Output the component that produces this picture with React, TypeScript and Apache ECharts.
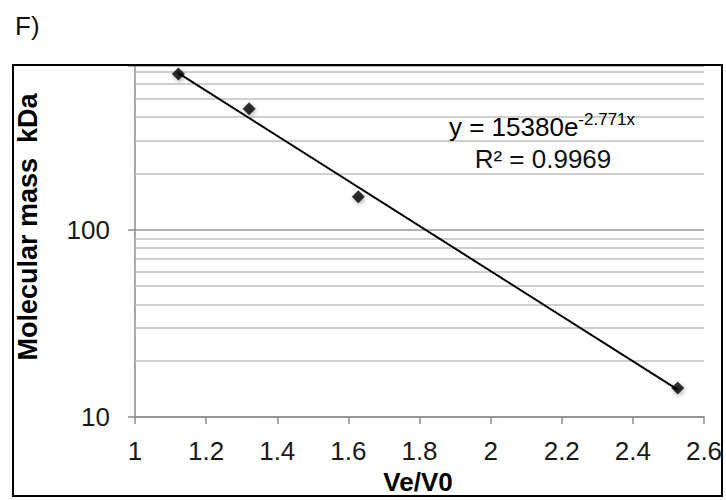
import React, { useEffect, useRef } from "react";
import * as echarts from "echarts";

// Data
const veV0: number[] = [1.122, 1.321, 1.628, 2.526];
const massKDa: number[] = [680, 443, 150, 14.3];
const trendX: number[] = [1.122, 2.526];
const trendY: number[] = [687, 14.0];
const minorGridValues: number[] = [20, 30, 40, 50, 60, 70, 80, 90, 200, 300, 400, 500, 600, 700];
const xMin = 1;
const xMax = 2.6;
const xStep = 0.2;
const yMin = 10;
const yMax = 750;

const FONT = "'Liberation Sans', Arial, Helvetica, sans-serif";

export default function App() {
  const ref = useRef<HTMLDivElement>(null);

  useEffect(() => {
    if (!ref.current) return;
    const chart = echarts.init(ref.current, null, { renderer: "svg" });

    const points = veV0.map((x, i) => [x, massKDa[i]]);
    const trend = trendX.map((x, i) => [x, trendY[i]]);

    const option: any = {
      animation: false,
      backgroundColor: "#ffffff",
      textStyle: { fontFamily: FONT },
      grid: { left: 135, right: 22, top: 66, bottom: 83, containLabel: false },
      xAxis: {
        type: "value",
        min: xMin,
        max: xMax,
        interval: xStep,
        axisLine: { show: true, onZero: false, lineStyle: { color: "#8c8c8c", width: 1.5 } },
        axisTick: { show: true, length: 7, lineStyle: { color: "#8c8c8c", width: 1.5 } },
        axisLabel: {
          color: "#1a1a1a",
          fontSize: 26,
          fontFamily: FONT,
          margin: 21,
          showMinLabel: true,
          showMaxLabel: true,
          hideOverlap: false,
          formatter: (v: number) => String(Math.round(v * 10) / 10),
        },
        splitLine: { show: false },
      },
      yAxis: {
        type: "log",
        logBase: 10,
        min: yMin,
        max: yMax,
        axisLine: { show: true, onZero: false, lineStyle: { color: "#8c8c8c", width: 1.5 } },
        axisTick: { show: true, length: 7, lineStyle: { color: "#8c8c8c", width: 1.5 } },
        axisLabel: {
          color: "#1a1a1a",
          fontSize: 26,
          fontFamily: FONT,
          margin: 25,
          formatter: (v: number) => {
            const l = Math.log10(v);
            return Math.abs(l - Math.round(l)) < 1e-6 ? String(Math.round(v)) : "";
          },
        },
        splitLine: { show: true, lineStyle: { color: "#9a9a9a", width: 1.5 } },
      },
      series: [
        {
          type: "line",
          data: trend,
          symbol: "none",
          lineStyle: { color: "#000000", width: 2 },
          z: 3,
          markLine: {
            silent: true,
            symbol: ["none", "none"],
            label: { show: false },
            lineStyle: { color: "#bfbfbf", width: 1.5, type: "solid" },
            data: minorGridValues.map((v) => ({ yAxis: v })),
            z: 1,
          },
        },
        {
          type: "scatter",
          data: points,
          symbol: "diamond",
          symbolSize: 13,
          itemStyle: {
            color: "#000000",
            shadowBlur: 4,
            shadowColor: "rgba(0,0,0,0.35)",
            shadowOffsetX: 1,
            shadowOffsetY: 2,
          },
          z: 4,
        },
      ],
      graphic: [
        {
          type: "text",
          left: 15,
          top: 13,
          style: { text: "F)", font: `26px ${FONT}`, fill: "#111" },
        },
        {
          type: "text",
          x: 28,
          y: 227,
          rotation: Math.PI / 2,
          style: {
            text: "Molecular mass  kDa",
            font: `bold 27px ${FONT}`,
            fill: "#000",
            align: "center",
            verticalAlign: "middle",
          },
        },
        {
          type: "text",
          x: 418,
          y: 482,
          style: {
            text: "Ve/V0",
            font: `bold 26px ${FONT}`,
            fill: "#000",
            align: "center",
            verticalAlign: "middle",
          },
        },
        {
          type: "text",
          x: 542,
          y: 127,
          z: 10,
          style: {
            text: "{m|y = 15380e}{s|-2.771x}",
            align: "center",
            verticalAlign: "middle",
            rich: {
              m: { fontSize: 26, fontFamily: FONT, color: "#111", lineHeight: 32 },
              s: { fontSize: 17, fontFamily: FONT, color: "#111", lineHeight: 20, verticalAlign: "top" },
            },
          },
        },
        {
          type: "text",
          x: 543,
          y: 159,
          z: 10,
          style: {
            text: "R\u00b2 = 0.9969",
            font: `26px ${FONT}`,
            fill: "#111",
            align: "center",
            verticalAlign: "middle",
          },
        },
        {
          type: "rect",
          z: 20,
          shape: { x: 13, y: 65, width: 709, height: 431 },
          style: { fill: "none", stroke: "#000", lineWidth: 2 },
        },
      ],
    };

    chart.setOption(option);
    return () => chart.dispose();
  }, []);

  return (
    <div
      ref={ref}
      style={{ position: "fixed", left: 0, top: 0, width: 726, height: 500 }}
    />
  );
}
